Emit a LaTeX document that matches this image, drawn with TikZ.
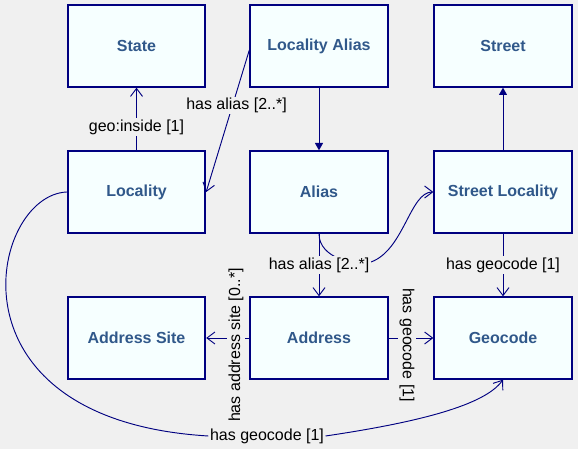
\documentclass[tikz,border=0pt]{standalone}
\usepackage{fontspec}
\setmainfont{Liberation Sans}
\usepackage{xcolor}
\usetikzlibrary{arrows.meta}
\definecolor{bgcol}{RGB}{240,240,240}
\definecolor{boxfill}{RGB}{246,255,255}
\definecolor{boxline}{RGB}{0,0,128}
\definecolor{boxtext}{RGB}{48,88,138}

\begin{document}
\begin{tikzpicture}[x=0.75pt, y=-0.75pt,
   entity/.style={draw=boxline, fill=boxfill, line width=1.5pt, minimum width=103pt, minimum height=61pt, inner sep=0pt, font=\bfseries\fontsize{12}{14}\selectfont, text=boxtext},
   rel/.style={draw=boxline, line width=0.7pt, -{Straight Barb[length=6pt,width=9pt]}},
   sub/.style={draw=boxline, line width=0.7pt, -{Triangle[length=5.5pt,width=6pt]}},
   lbl/.style={fill=bgcol, inner sep=1pt, font=\fontsize{12}{14}\selectfont, text=black}]
   \fill[bgcol] (0,0) rectangle (578,449);
   \useasboundingbox (0,0) rectangle (578,449);
   \node[entity] (state) at (136.5,46) {State};
   \node[entity] (lalias) at (319,46) {Locality Alias};
   \node[entity] (street) at (503,46) {Street};
   \node[entity] (loc) at (136.5,192) {Locality};
   \node[entity] (alias) at (319,192) {Alias};
   \node[entity] (sloc) at (503,192) {Street Locality};
   \node[entity] (asite) at (136.5,338) {Address Site};
   \node[entity] (addr) at (319,338) {Address};
   \node[entity] (geo) at (503,338) {Geocode};
   \coordinate (aliasturn) at (371,262);
   \draw[rel] (loc) -- node[lbl, pos=.37] (insidelbl) {geo:inside [1]} (state);
   \draw[rel] ([yshift=-3pt]lalias.west) -- node[lbl, pos=.39, xshift=3pt] (laliaslbl) {has alias [2..*]} (loc.east);
   \draw[sub] (lalias) -- (alias);
   \draw[sub] (sloc) -- (street);
   \draw[rel] (alias.south) .. controls +(0,25) and +(-15,4) .. (aliasturn) .. controls (404,250) and (410,192) .. (sloc.west);
   \draw[rel] (alias) -- node[lbl] (aliaslbl) {has alias [2..*]} (addr);
   \draw[rel] (sloc) -- node[lbl] (slocgeolbl) {has geocode [1]} (geo);
   \draw[rel] (addr) -- (geo);
   \node[lbl, rotate=-90] (addrgeolbl) at (407,345) {has geocode [1]};
   \draw[rel] (addr) -- (asite);
   \node[lbl, rotate=90] (sitelbl) at (236,345) {has address site [0..*]};
   \node[lbl] (locgeolbl) at (267,436) {has geocode [1]};
   \draw[rel] (loc.west) .. controls (-10,195) and (-60,420) .. (locgeolbl.west) (locgeolbl.east) .. controls (420,422) and (485,405) .. (geo.south);
\end{tikzpicture}
\end{document}
